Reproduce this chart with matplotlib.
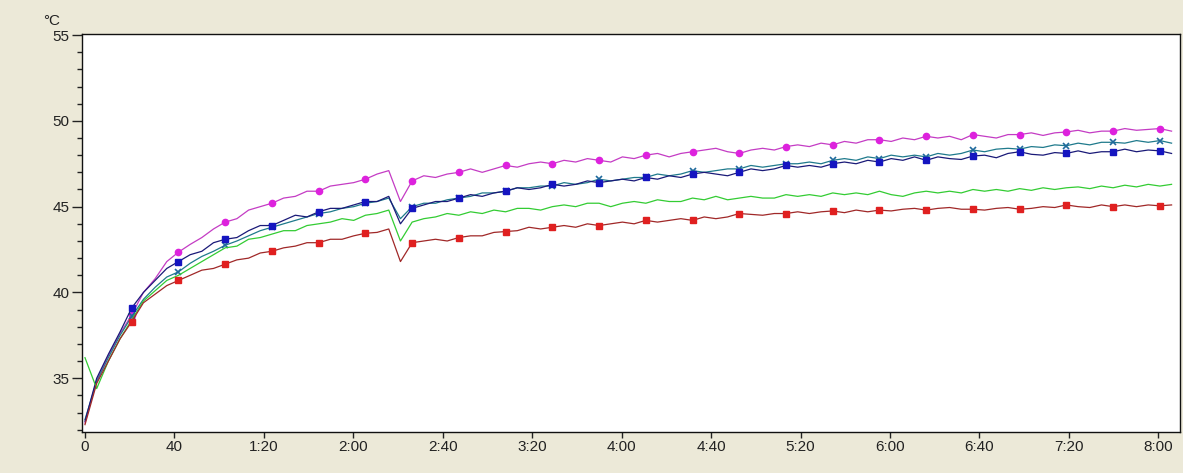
import numpy as np
import matplotlib
matplotlib.use("Agg")
import matplotlib.pyplot as plt

# logger samples, one every 5.225 s (markers every 4th sample ~ 20.9 s)
step = 5.225

magenta = [32.4, 34.9, 36.3, 37.6, 38.7, 40.0, 40.8, 41.8, 42.35, 42.8,
           43.2, 43.7, 44.1, 44.3, 44.8, 45.0, 45.2, 45.5, 45.6, 45.9,
           45.9, 46.2, 46.3, 46.4, 46.6, 46.9, 47.1, 45.3, 46.5, 46.8,
           46.7, 46.9, 47.0, 47.2, 47.0, 47.2, 47.4, 47.3, 47.5, 47.6,
           47.5, 47.7, 47.6, 47.8, 47.7, 47.6, 47.9, 47.8, 48.0, 48.1,
           47.9, 48.1, 48.2, 48.3, 48.4, 48.2, 48.1, 48.3, 48.4, 48.3,
           48.5, 48.6, 48.5, 48.7, 48.6, 48.8, 48.7, 48.9, 48.9, 48.8,
           49.0, 48.9, 49.1, 49.0, 49.1, 48.9, 49.2, 49.1, 49.0, 49.2,
           49.2, 49.3, 49.15, 49.3, 49.35, 49.45, 49.3, 49.4, 49.4, 49.55,
           49.45, 49.5, 49.55, 49.4]

navy = [32.5, 35.0, 36.4, 37.7, 39.1, 40.0, 40.7, 41.4, 41.8, 42.2,
        42.4, 42.9, 43.1, 43.2, 43.6, 43.9, 43.9, 44.2, 44.5, 44.4,
        44.7, 44.9, 44.9, 45.1, 45.3, 45.3, 45.6, 44.0, 44.9, 45.1,
        45.3, 45.3, 45.5, 45.7, 45.6, 45.8, 45.9, 46.1, 46.0, 46.1,
        46.3, 46.2, 46.3, 46.5, 46.4, 46.5, 46.6, 46.5, 46.7, 46.6,
        46.8, 46.7, 46.9, 47.0, 46.9, 46.8, 47.0, 47.2, 47.1, 47.2,
        47.4, 47.3, 47.4, 47.3, 47.5, 47.6, 47.5, 47.7, 47.6, 47.8,
        47.7, 47.9, 47.7, 47.9, 47.8, 47.75, 47.95, 48.0, 47.85, 48.1,
        48.2, 48.05, 48.0, 48.15, 48.1, 48.25, 48.1, 48.2, 48.2, 48.35,
        48.2, 48.3, 48.25, 48.1]

teal = [32.6, 34.8, 36.2, 37.5, 38.6, 39.6, 40.3, 40.9, 41.2, 41.7,
        42.1, 42.4, 42.75, 43.0, 43.3, 43.6, 43.8, 44.0, 44.2, 44.4,
        44.6, 44.7, 44.9, 45.0, 45.2, 45.3, 45.5, 44.3, 45.0, 45.2,
        45.2, 45.4, 45.5, 45.6, 45.8, 45.8, 45.9, 46.1, 46.1, 46.2,
        46.2, 46.4, 46.3, 46.4, 46.6, 46.5, 46.6, 46.7, 46.7, 46.9,
        46.8, 46.9, 47.1, 47.0, 47.1, 47.2, 47.2, 47.4, 47.3, 47.4,
        47.5, 47.5, 47.6, 47.5, 47.7, 47.8, 47.7, 47.9, 47.8, 48.0,
        47.9, 48.0, 47.9, 48.1, 48.0, 48.1, 48.3, 48.2, 48.35, 48.4,
        48.35, 48.5, 48.45, 48.6, 48.55, 48.7, 48.6, 48.75, 48.75, 48.7,
        48.85, 48.75, 48.85, 48.7]

green = [36.2, 34.4, 36.0, 37.3, 38.4, 39.5, 40.1, 40.7, 41.0, 41.4,
         41.8, 42.2, 42.6, 42.7, 43.1, 43.2, 43.4, 43.6, 43.6, 43.9,
         44.0, 44.1, 44.3, 44.2, 44.5, 44.6, 44.8, 43.0, 44.1, 44.3,
         44.4, 44.6, 44.5, 44.7, 44.6, 44.8, 44.7, 44.9, 44.9, 44.8,
         45.0, 45.1, 45.0, 45.2, 45.2, 45.0, 45.2, 45.3, 45.2, 45.4,
         45.3, 45.3, 45.5, 45.4, 45.6, 45.4, 45.5, 45.6, 45.5, 45.5,
         45.7, 45.6, 45.7, 45.6, 45.8, 45.7, 45.8, 45.7, 45.9, 45.7,
         45.6, 45.8, 45.9, 45.8, 45.9, 45.8, 46.0, 45.9, 46.0, 45.9,
         46.05, 45.95, 46.1, 46.0, 46.1, 46.15, 46.05, 46.2, 46.1, 46.25,
         46.15, 46.3, 46.2, 46.3]

red = [32.3, 34.7, 36.0, 37.3, 38.3, 39.4, 39.9, 40.4, 40.7, 41.0,
       41.3, 41.4, 41.65, 41.9, 42.0, 42.3, 42.4, 42.6, 42.7, 42.9,
       42.9, 43.1, 43.1, 43.3, 43.45, 43.5, 43.7, 41.8, 42.9, 43.0,
       43.1, 43.0, 43.2, 43.3, 43.3, 43.5, 43.55, 43.6, 43.8, 43.7,
       43.8, 43.9, 43.8, 44.0, 43.9, 44.0, 44.1, 44.0, 44.2, 44.1,
       44.2, 44.3, 44.2, 44.4, 44.3, 44.4, 44.6, 44.55, 44.5, 44.6,
       44.6, 44.7, 44.6, 44.7, 44.75, 44.65, 44.8, 44.7, 44.8, 44.75,
       44.85, 44.9, 44.8, 44.9, 44.95, 44.85, 44.85, 44.8, 44.9, 44.95,
       44.85, 44.9, 45.0, 44.95, 45.1, 45.0, 44.95, 45.1, 45.0, 45.1,
       45.0, 45.1, 45.05, 45.1]

xticks = [0, 40, 80, 120, 160, 200, 240, 280, 320, 360, 400, 440, 480]
xticklabels = ['0', '40', '1:20', '2:00', '2:40', '3:20', '4:00', '4:40',
               '5:20', '6:00', '6:40', '7:20', '8:00']
yticks = [35, 40, 45, 50, 55]

t = np.arange(len(magenta)) * step

plt.rcParams['font.family'] = ['Liberation Sans', 'DejaVu Sans']

fig = plt.figure(figsize=(11.83, 4.73), dpi=100, facecolor='#ECE9D8')
ax = fig.add_axes([82/1183, 41/473, 1098/1183, 398/473])
ax.set_facecolor('white')

mk = (4, 4)
ax.plot(t, magenta, color='#C43CC4', lw=0.9, marker='o', ms=4.5, mfc='#DD22DD',
        mec='#DD22DD', markevery=mk)
ax.plot(t, teal, color='#1F7A8C', lw=0.9, marker='x', ms=5, mec='#1F6A9C',
        mew=1.2, markevery=mk)
ax.plot(t, navy, color='#1A1A78', lw=0.9, marker='s', ms=4.5, mfc='#1515C0',
        mec='#1515C0', markevery=mk)
ax.plot(t, green, color='#33CC33', lw=0.9)
ax.plot(t, red, color='#A02828', lw=0.9, marker='s', ms=4.5, mfc='#E02020',
        mec='#E02020', markevery=mk)

ax.set_xlim(-1.34, 489.7)
ax.set_ylim(31.87, 55.06)
ax.set_xticks(xticks)
ax.set_xticklabels(xticklabels)
ax.set_yticks(yticks)
ax.set_yticks(np.arange(32, 56), minor=True)
ax.tick_params(axis='y', which='major', length=7, width=1, pad=2,
               labelsize=11, colors='#222222')
ax.tick_params(axis='y', which='minor', length=3.5, width=1, colors='#222222')
ax.tick_params(axis='x', which='major', length=4, width=1, pad=2,
               labelsize=11, colors='#222222')
for s in ax.spines.values():
    s.set_color('#111111')
    s.set_linewidth(1)

fig.text(52/1183, 1 - 21/473, '°C', ha='center', va='center',
         fontsize=11, color='#222222')

fig.savefig('out.png', dpi=100, facecolor=fig.get_facecolor())
